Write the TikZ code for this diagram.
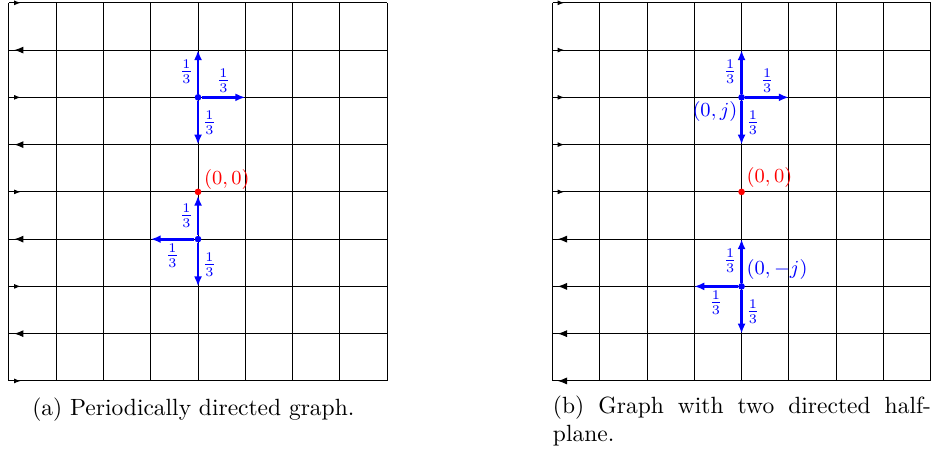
\documentclass[tikz,border=0pt]{standalone}
\usepackage{amsmath}
\usetikzlibrary{arrows.meta}

\begin{document}
\begin{tikzpicture}[
    x=0.75cm, y=0.75cm,
    gridline/.style={black, line width=0.45pt},
    lefttip/.style={-{Latex[length=4.2pt, width=3.2pt]}, line width=0.45pt},
    righttip/.style={-{Latex[length=3pt, width=2.2pt]}, line width=0.45pt},
    flow/.style={-{Latex[length=4.5pt, width=3.6pt]}, line width=1.3pt, blue},
    wt/.style={font=\small, text=blue, inner sep=1.5pt},
    site/.style={circle, fill=blue, inner sep=0pt, minimum size=3pt},
    origin/.style={circle, fill=red, inner sep=0pt, minimum size=3pt},
    coordlbl/.style={font=\small, inner sep=0pt},
    caption/.style={font=\fontsize{10.6}{12.6}\selectfont},
]
\useasboundingbox (-0.19,-1.46) rectangle (19.72,8.06);

% (a) periodically directed grid
\foreach \i in {0,...,8} {
    \draw[gridline] (\i,0) -- (\i,8);
    \draw[gridline] (0,\i) -- (8,\i);
}
\foreach \r in {0,2,4,6,8}
    \draw[righttip] (0,\r) -- (0.25,\r);
\foreach \r in {1,3,5,7}
    \draw[lefttip] (0.5,\r) -- (0.11,\r);

\node[origin] (oa) at (4,4) {};
\node[coordlbl, text=red, anchor=west] (oa-lbl) at (4.12,4.27) {$(0,0)$};

\node[site] (ua) at (4,6) {};
\coordinate (ua-n) at (4,7);
\coordinate (ua-e) at (5,6);
\coordinate (ua-s) at (4,5);
\draw[flow] (ua) -- (ua-n) node[midway, left, wt] {$\frac{1}{3}$};
\draw[flow] (ua) -- (ua-e) node[midway, above, wt] {$\frac{1}{3}$};
\draw[flow] (ua) -- (ua-s) node[midway, right, wt] {$\frac{1}{3}$};

\node[site] (la) at (4,3) {};
\coordinate (la-w) at (3,3);
\coordinate (la-s) at (4,2);
\draw[flow] (la) -- (oa) node[midway, left, wt] {$\frac{1}{3}$};
\draw[flow] (la) -- (la-w) node[midway, below, wt] {$\frac{1}{3}$};
\draw[flow] (la) -- (la-s) node[midway, right, wt] {$\frac{1}{3}$};

\node[caption] (cap-a) at (3.9,-0.61) {(a) Periodically directed graph.};

% (b) two directed half-planes
\begin{scope}[xshift=8.625cm]
\foreach \i in {0,...,8} {
    \draw[gridline] (\i,0) -- (\i,8);
    \draw[gridline] (0,\i) -- (8,\i);
}
\foreach \r in {4,...,8}
    \draw[righttip] (0,\r) -- (0.25,\r);
\foreach \r in {0,...,3}
    \draw[lefttip] (0.5,\r) -- (0.11,\r);

\node[origin] (ob) at (4,4) {};
\node[coordlbl, text=red, anchor=west] (ob-lbl) at (4.1,4.3) {$(0,0)$};

\node[site] (ub) at (4,6) {};
\coordinate (ub-n) at (4,7);
\coordinate (ub-e) at (5,6);
\coordinate (ub-s) at (4,5);
\draw[flow] (ub) -- (ub-n) node[midway, left, wt] {$\frac{1}{3}$};
\draw[flow] (ub) -- (ub-e) node[midway, above, wt] {$\frac{1}{3}$};
\draw[flow] (ub) -- (ub-s) node[midway, right, wt] {$\frac{1}{3}$};
\node[coordlbl, text=blue, anchor=east] (ub-lbl) at (3.92,5.7) {$(0,j)$};

\node[site] (lb) at (4,2) {};
\coordinate (lb-n) at (4,3);
\coordinate (lb-w) at (3,2);
\coordinate (lb-s) at (4,1);
\draw[flow] (lb) -- (lb-n) node[midway, left, wt] {$\frac{1}{3}$};
\draw[flow] (lb) -- (lb-w) node[midway, below, wt] {$\frac{1}{3}$};
\draw[flow] (lb) -- (lb-s) node[midway, right, wt] {$\frac{1}{3}$};
\node[coordlbl, text=blue, anchor=west] (lb-lbl) at (4.1,2.36) {$(0,-j)$};

\node[caption, anchor=north west, inner sep=0pt, text width=6cm, align=justify] (cap-b) at (0,-0.3)
    {(b) Graph with two directed half-\linebreak plane.};
\end{scope}
\end{tikzpicture}
\end{document}
